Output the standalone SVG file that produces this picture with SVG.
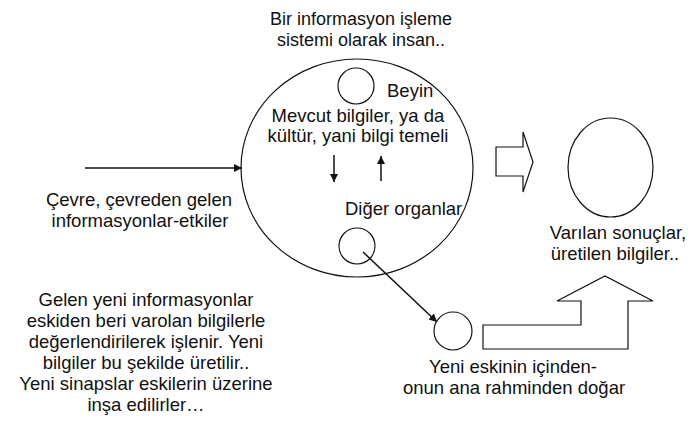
<svg xmlns="http://www.w3.org/2000/svg" width="691" height="425" viewBox="0 0 691 425">
<defs>
<style>
.t{font-family:"Liberation Sans",Arial,sans-serif;font-size:18.5px;fill:#111;}
.m{text-anchor:middle;}
.s{fill:none;stroke:#111;stroke-width:1.2;}
.c{stroke:#111;stroke-width:1.5;fill:none;}
</style>
<marker id="ah" viewBox="0 0 10 10" refX="10" refY="5" markerWidth="10" markerHeight="8" markerUnits="userSpaceOnUse" orient="auto">
<path d="M0,0 L10,5 L0,10 Z" fill="#111"/>
</marker>
</defs>
<rect width="691" height="425" fill="#fff"/>
<g id="title">
<text class="t m" x="361" y="25" style="font-size:18px">Bir informasyon işleme</text>
<text class="t m" x="361" y="46" style="font-size:18px">sistemi olarak insan..</text>
</g>
<g id="human">
<ellipse class="s" cx="357" cy="168" rx="116" ry="109"/>
</g>
<g id="brain">
<circle class="s" cx="356" cy="86" r="18"/>
<text class="t" x="387" y="97">Beyin</text>
</g>
<g id="knowledge">
<text class="t m" x="358" y="122">Mevcut bilgiler, ya da</text>
<text class="t m" x="358" y="142">kültür, yani bilgi temeli</text>
</g>
<g id="organs">
<text class="t" x="345" y="215">Diğer organlar</text>
<circle class="s" cx="357" cy="246" r="18"/>
</g>
<g id="environment">
<text class="t m" x="139" y="206">Çevre, çevreden gelen</text>
<text class="t m" x="140" y="227">informasyonlar-etkiler</text>
</g>
<g id="newnode">
<circle class="s" cx="453" cy="331" r="19"/>
<text class="t m" x="513" y="373">Yeni eskinin içinden-</text>
<text class="t m" x="514" y="394">onun ana rahminden doğar</text>
</g>
<g id="results">
<ellipse class="s" cx="610.5" cy="167.5" rx="42.5" ry="49.5"/>
<text class="t m" x="618" y="239">Varılan sonuçlar,</text>
<text class="t m" x="615" y="260">üretilen bilgiler..</text>
</g>
<g id="note">
<text class="t m" x="146" y="306">Gelen yeni informasyonlar</text>
<text class="t m" x="146" y="327">eskiden beri varolan bilgilerle</text>
<text class="t m" x="146" y="348">değerlendirilerek işlenir. Yeni</text>
<text class="t m" x="146" y="369">bilgiler bu şekilde üretilir..</text>
<text class="t m" x="146" y="390">Yeni sinapslar eskilerin üzerine</text>
<text class="t m" x="146" y="411">inşa edilirler…</text>
</g>
<g id="connectors">
<line class="c" x1="85" y1="168" x2="242" y2="168" marker-end="url(#ah)"/>
<line class="c" x1="363" y1="252" x2="437" y2="322" marker-end="url(#ah)"/>
<line class="c" x1="334" y1="155" x2="334" y2="182" marker-end="url(#ah)"/>
<line class="c" x1="381" y1="181" x2="381" y2="156" marker-end="url(#ah)"/>
<polygon class="s" points="496,147 523,147 523,132 533,162 523,192 523,176 496,176"/>
<polygon class="s" points="483,325 581,325 581,301 557,301 605,276 653,301 628,301 628,349 483,349"/>
</g>
</svg>
